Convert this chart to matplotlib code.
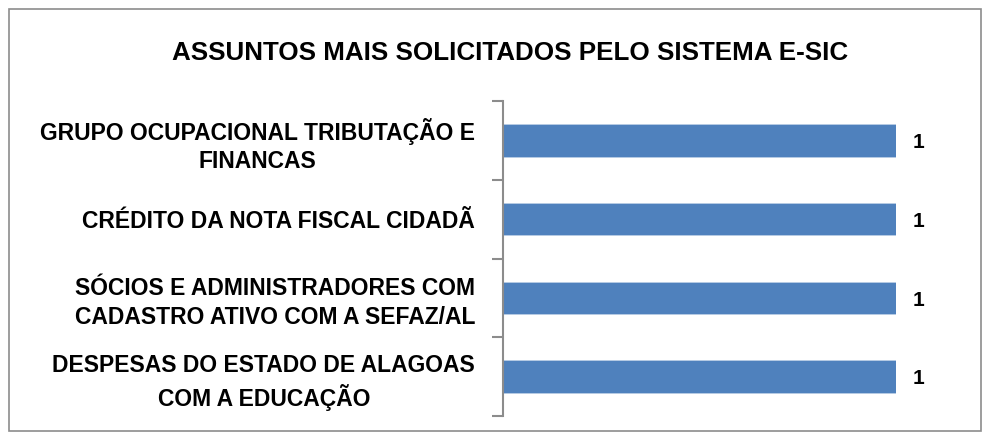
import numpy as np
import matplotlib.pyplot as plt
from matplotlib.patches import Rectangle

plt.rcParams['font.family'] = ['Liberation Sans', 'DejaVu Sans']

categorias = ['GRUPO OCUPACIONAL TRIBUTAÇÃO E\nFINANCAS',
              'CRÉDITO DA NOTA FISCAL CIDADÃ',
              'SÓCIOS E ADMINISTRADORES COM\nCADASTRO ATIVO COM A SEFAZ/AL',
              'DESPESAS DO ESTADO DE ALAGOAS\nCOM A EDUCAÇÃO']
valores = [1, 1, 1, 1]
titulo = 'ASSUNTOS MAIS SOLICITADOS PELO SISTEMA E-SIC'

fig = plt.figure(figsize=(9.91, 4.38), dpi=100)
fig.patches.append(Rectangle((9 / 991, 7 / 438), 972 / 991, 422 / 438, transform=fig.transFigure,
                             fill=False, edgecolor='#8c8c8c', linewidth=1.2))
ax = fig.add_axes([503 / 991, 22 / 438, 393 / 991, 315 / 438])

pos = np.arange(len(categorias))[::-1]
ax.barh(pos, valores, height=0.41, color='#4f81bd', edgecolor='#b9cde5', linewidth=0.6)
for p, v in zip(pos, valores):
    ax.text(v + 0.043, p - 0.03, str(v), va='center', ha='left', fontsize=15, fontweight='bold', clip_on=False)

ax.set_xlim(0, 1)
ax.set_ylim(-0.5, len(categorias) - 0.5)
ax.set_xticks([])
ax.set_yticks(pos)
ax.set_yticklabels(categorias, fontsize=16.5, fontweight='bold')
for lbl in ax.get_yticklabels():
    lbl.set_multialignment('center')
    lbl.set_linespacing(1.3)
ax.set_yticks(np.arange(len(categorias) + 1) - 0.5, minor=True)
ax.tick_params(axis='y', which='major', length=0, pad=20)
ax.tick_params(axis='y', which='minor', length=8, width=1.5, color='#8c8c8c')
for s in ['top', 'right', 'bottom']:
    ax.spines[s].set_visible(False)
ax.spines['left'].set_color('#8c8c8c')
ax.spines['left'].set_linewidth(1.5)

fig.text(510 / 991, 1 - 53 / 438, titulo, ha='center', va='center', fontsize=18.7, fontweight='bold')

plt.savefig('out.png', dpi=100)
